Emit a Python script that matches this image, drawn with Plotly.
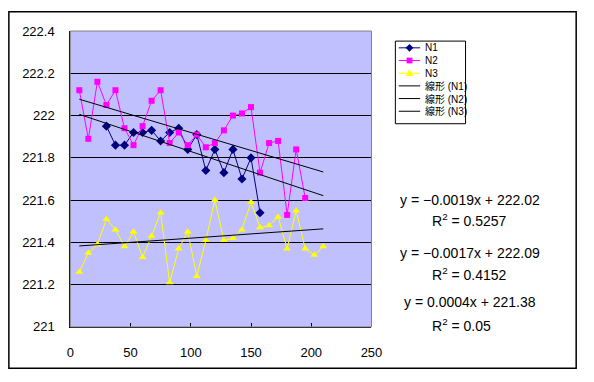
import plotly.graph_objects as go

# ---------------- data ----------------
x_n1 = [30, 37.5, 45, 52.5, 60, 67.5, 75, 82.5, 90, 97.5, 105, 112.5, 120, 127.5,
        135, 142.5, 150, 157.5]
y_n1 = [221.95, 221.86, 221.86, 221.92, 221.92, 221.93, 221.88, 221.92, 221.94, 221.84,
        221.91, 221.74, 221.84, 221.73, 221.84, 221.70, 221.80, 221.54]

x_n2 = [7.5, 15, 22.5, 30, 37.5, 45, 52.5, 60, 67.5, 75, 82.5, 90, 97.5, 105, 112.5,
        120, 127.5, 135, 142.5, 150, 157.5, 165, 172.5, 180, 187.5, 195]
y_n2 = [222.12, 221.89, 222.16, 222.05, 222.12, 221.94, 221.86, 221.95, 222.07, 222.12,
        221.87, 221.92, 221.86, 221.91, 221.85, 221.87, 221.93, 222.00, 222.01, 222.04,
        221.73, 221.87, 221.88, 221.53, 221.84, 221.61]

x_n3 = [7.5, 15, 22.5, 30, 37.5, 45, 52.5, 60, 67.5, 75, 82.5, 90, 97.5, 105, 112.5,
        120, 127.5, 135, 142.5, 150, 157.5, 165, 172.5, 180, 187.5, 195, 202.5, 210]
y_n3 = [221.26, 221.35, 221.39, 221.51, 221.46, 221.38, 221.45, 221.33, 221.43, 221.54,
        221.21, 221.37, 221.45, 221.24, 221.41, 221.60, 221.41, 221.42, 221.46, 221.59,
        221.47, 221.48, 221.52, 221.37, 221.55, 221.37, 221.34, 221.38]

series_names = ["N1", "N2", "N3"]
trend_names = ["線形 (N1)", "線形 (N2)", "線形 (N3)"]
trend_slopes = [-0.0019, -0.0017, 0.0004]
trend_intercepts = [222.02, 222.09, 221.38]
trend_r2 = ["0.5257", "0.4152", "0.05"]
trend_x_range = [7.5, 210]

y_tickvals = [221, 221.2, 221.4, 221.6, 221.8, 222, 222.2, 222.4]
y_ticktext = ["221", "221.2", "221.4", "221.6", "221.8", "222", "222.2", "222.4"]
x_tickvals = [0, 50, 100, 150, 200, 250]

# ---------------- styling ----------------
W, H = 594, 382
colors = ["#000080", "#FF00FF", "#FFFF00"]
symbols = ["diamond", "square", "triangle-up"]
msizes = [7, 6, 7]
FONT = "Liberation Sans, Arial, sans-serif"
JFONT = "Liberation Sans, Noto Sans CJK JP, sans-serif"


def px(xp):
    return xp / W


def py(yp):
    return (H - yp) / H


fig = go.Figure()

for name, xs, ys, c, s, m in zip(series_names, [x_n1, x_n2, x_n3], [y_n1, y_n2, y_n3],
                                 colors, symbols, msizes):
    fig.add_trace(go.Scatter(
        x=xs, y=ys, mode="lines+markers", name=name,
        line=dict(color=c, width=1),
        marker=dict(symbol=s, size=m, color=c, line=dict(width=0)),
        showlegend=False, cliponaxis=False,
    ))

for name, a, b in zip(trend_names, trend_slopes, trend_intercepts):
    fig.add_trace(go.Scatter(
        x=trend_x_range, y=[a * v + b for v in trend_x_range], mode="lines", name=name,
        line=dict(color="black", width=1), showlegend=False,
    ))

# plot area px box
L, R, T, B = 68, 377, 25, 333

fig.update_layout(
    width=W, height=H,
    margin=dict(l=0, r=0, t=0, b=0),
    paper_bgcolor="white",
    plot_bgcolor="#C0C0FF",
    showlegend=False,
    font=dict(family=FONT, size=13, color="black"),
    xaxis=dict(
        domain=[px(L), px(R)], range=[0, 250], tickvals=x_tickvals,
        showgrid=False, zeroline=False, showline=True, linecolor="black", linewidth=1,
        ticks="inside", ticklen=4, tickcolor="black", ticklabelstandoff=13,
        tickfont=dict(size=13, family=FONT),
    ),
    yaxis=dict(
        domain=[py(B), py(T)], range=[221, 222.4], tickvals=y_tickvals, ticktext=y_ticktext,
        showgrid=True, gridcolor="black", gridwidth=1, zeroline=False,
        showline=True, linecolor="black", linewidth=1, ticks="",
        ticklabelstandoff=12, tickfont=dict(size=13, family=FONT),
    ),
)

shapes = []
# plot area border (top/right gray)
shapes.append(dict(type="rect", xref="x domain", yref="y domain", x0=0, x1=1, y0=0, y1=1,
                   line=dict(color="#808080", width=1), layer="above"))
# outer chart border
shapes.append(dict(type="rect", xref="paper", yref="paper", x0=px(5), x1=px(587),
                   y0=py(376), y1=py(5), line=dict(color="black", width=1.5)))
# legend box
LX0, LY0, LX1, LY1 = 401.5, 35.5, 473.5, 121.5
shapes.append(dict(type="rect", xref="paper", yref="paper", x0=px(LX0), x1=px(LX1),
                   y0=py(LY1), y1=py(LY0), line=dict(color="black", width=1),
                   fillcolor="white"))

legend_entries = series_names + trend_names
legend_colors = colors + ["black", "black", "black"]
legend_symbols = symbols + [None, None, None]
entry_y0, entry_dy = 42.5, 13.2
annotations = []


def marker_path(sym, cx, cy):
    if sym == "diamond":
        pts = [(cx, cy - 4), (cx + 4, cy), (cx, cy + 4), (cx - 4, cy)]
    elif sym == "square":
        pts = [(cx - 3, cy - 3), (cx + 3, cy - 3), (cx + 3, cy + 3), (cx - 3, cy + 3)]
    else:
        pts = [(cx, cy - 4), (cx + 4, cy + 3), (cx - 4, cy + 3)]
    return "M " + " L ".join(f"{px(a):.5f},{py(b):.5f}" for a, b in pts) + " Z"


for k, (name, c, sym) in enumerate(zip(legend_entries, legend_colors, legend_symbols)):
    yy = entry_y0 + k * entry_dy
    shapes.append(dict(type="line", xref="paper", yref="paper", x0=px(405), x1=px(427),
                       y0=py(yy), y1=py(yy), line=dict(color=c, width=1)))
    if sym:
        shapes.append(dict(type="path", xref="paper", yref="paper",
                           path=marker_path(sym, 416, yy), fillcolor=c,
                           line=dict(color=c, width=0)))
    annotations.append(dict(xref="paper", yref="paper", x=px(429.5), y=py(yy),
                            xanchor="left", yanchor="middle", text=name, showarrow=False,
                            font=dict(size=10, family=JFONT, color="black")))

# trendline equations
eq_y = [200.5, 256, 307]
r2_y = [221.5, 277.5, 331.5]
for a, b, r2, ey, ry in zip(trend_slopes, trend_intercepts, trend_r2, eq_y, r2_y):
    sign = "−" if a < 0 else ""
    txt = f"y = {sign}{abs(a):.4f}x + {b:.2f}"
    annotations.append(dict(xref="paper", yref="paper", x=px(478), y=py(ey),
                            xanchor="center", yanchor="middle", text=txt, showarrow=False,
                            font=dict(size=14, family=FONT)))
    annotations.append(dict(xref="paper", yref="paper", x=px(437), y=py(ry),
                            xanchor="left", yanchor="middle",
                            text=f"R<sup>2</sup> = {r2}", showarrow=False,
                            font=dict(size=14, family=FONT)))

fig.update_layout(shapes=shapes, annotations=annotations)
fig.write_html(
    "out.html",
    config={"displayModeBar": False},
    post_script="document.body.style.margin='0px';document.body.style.overflow='hidden';",
)
